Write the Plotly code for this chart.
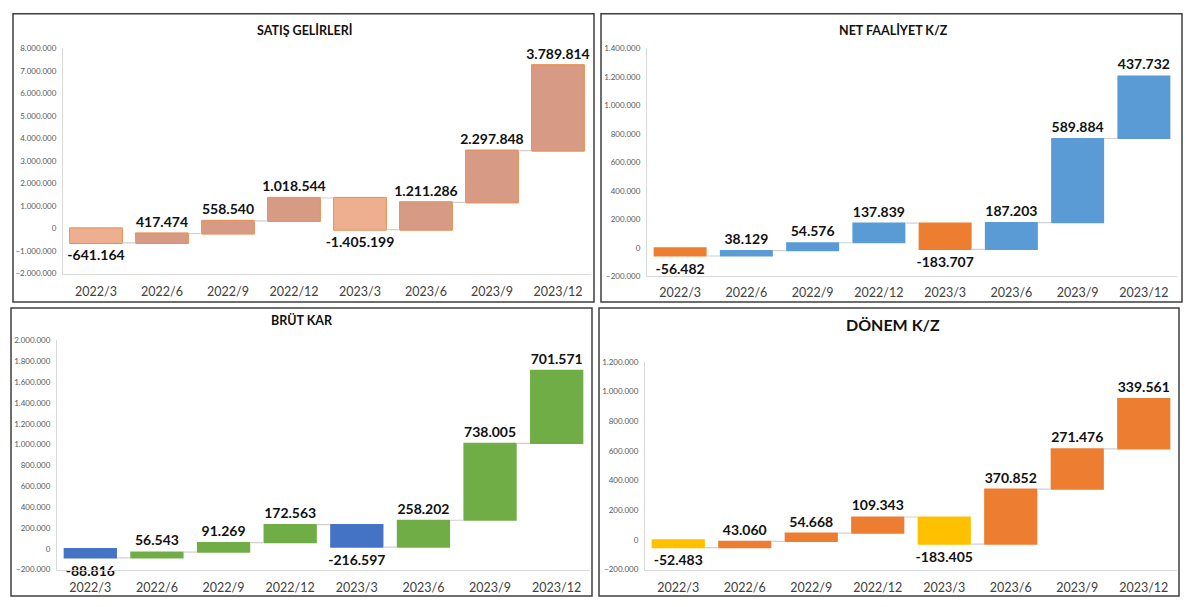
import plotly.graph_objects as go

W, H = 1200, 607

categories = ["2022/3", "2022/6", "2022/9", "2022/12", "2023/3", "2023/6", "2023/9", "2023/12"]

satis_gelirleri = [-641164, 417474, 558540, 1018544, -1405199, 1211286, 2297848, 3789814]
net_faaliyet = [-56482, 38129, 54576, 137839, -183707, 187203, 589884, 437732]
brut_kar = [-88816, 56543, 91269, 172563, -216597, 258202, 738005, 701571]
donem_kz = [-52483, 43060, 54668, 109343, -183405, 370852, 271476, 339561]

titles = ["SATIŞ GELİRLERİ", "NET FAALİYET K/Z", "BRÜT KAR", "DÖNEM K/Z"]

FONT = "Lato, Open Sans, sans-serif"


def px_x(x):
    return x / W


def px_y(y):
    return 1 - y / H


def fmt(v):
    return f"{v:,}".replace(",", ".")


panels = [
    dict(data=satis_gelirleri, inc="#D69A85", dec="#EEAE90", line="#E8904F", lw=1,
         area=(63, 591, 44, 273), yr=(-2000000, 8000000), dtick=1000000,
         box=(13, 594, 9, 302), title_xy=(305, 25), tsize=12.5, standoff=6),
    dict(data=net_faaliyet, inc="#5B9BD5", dec="#ED7D31", line="rgba(0,0,0,0)", lw=0,
         area=(647, 1177, 44, 276), yr=(-200000, 1400000), dtick=200000,
         box=(601, 1182, 9, 302), title_xy=(893, 25), tsize=12.5, standoff=5),
    dict(data=brut_kar, inc="#70AD47", dec="#4472C4", line="rgba(0,0,0,0)", lw=0,
         area=(57, 590, 341, 574), yr=(-200000, 2000000), dtick=200000,
         box=(11, 592, 308, 601), title_xy=(302, 321), tsize=12.5, standoff=6),
    dict(data=donem_kz, inc="#ED7D31", dec="#FFC000", line="rgba(0,0,0,0)", lw=0,
         area=(645, 1177, 363, 574), yr=(-200000, 1200000), dtick=200000,
         box=(599, 1179, 308, 601), title_xy=(893, 325), tsize=16, standoff=6),
]

fig = go.Figure()
shapes = []
annotations = []

for i, p in enumerate(panels):
    n = i + 1
    xa = "x" if n == 1 else f"x{n}"
    ya = "y" if n == 1 else f"y{n}"
    fig.add_trace(go.Waterfall(
        x=categories,
        y=p["data"],
        measure=["relative"] * len(p["data"]),
        text=[fmt(v) for v in p["data"]],
        textposition="outside",
        constraintext="none",
        textfont=dict(family=FONT, size=14, color="#111111", weight="bold"),
        increasing=dict(marker=dict(color=p["inc"], line=dict(color=p["line"], width=p["lw"]))),
        decreasing=dict(marker=dict(color=p["dec"], line=dict(color=p["line"], width=p["lw"]))),
        connector=dict(line=dict(color="#D0D0D0", width=1.2)),
        cliponaxis=False,
        showlegend=False,
        hoverinfo="x+y",
        xaxis=xa, yaxis=ya,
    ))
    x0, x1, yt, yb = p["area"]
    xkey = "xaxis" if n == 1 else f"xaxis{n}"
    ykey = "yaxis" if n == 1 else f"yaxis{n}"
    fig.layout[xkey] = dict(
        domain=[px_x(x0), px_x(x1)], anchor=ya,
        showline=True, linecolor="#D9D9D9", linewidth=1,
        showgrid=False, ticks="", zeroline=False,
        tickfont=dict(family=FONT, size=12.5, color="#404040"),
        ticklabelstandoff=p["standoff"],
        type="category",
    )
    fig.layout[ykey] = dict(
        domain=[px_y(yb), px_y(yt)], anchor=xa,
        range=list(p["yr"]), dtick=p["dtick"], tick0=0,
        tickformat=",d",
        showline=True, linecolor="#D9D9D9", linewidth=1,
        showgrid=False, zeroline=False, ticks="",
        tickfont=dict(family=FONT, size=8, color="#595959"),
        ticklabelstandoff=4,
    )
    bx0, bx1, by0, by1 = p["box"]
    shapes.append(dict(type="rect", xref="paper", yref="paper",
                       x0=px_x(bx0), x1=px_x(bx1), y0=px_y(by1), y1=px_y(by0),
                       line=dict(color="#3F3F3F", width=1.5), fillcolor="rgba(0,0,0,0)",
                       layer="below"))
    tx, ty = p["title_xy"]
    annotations.append(dict(text=f"<b>{titles[i]}</b>", xref="paper", yref="paper",
                            x=px_x(tx), y=px_y(ty), showarrow=False,
                            xanchor="center", yanchor="middle",
                            font=dict(family=FONT, size=p["tsize"], color="#111111")))

fig.update_layout(
    width=W, height=H,
    margin=dict(l=0, r=0, t=0, b=0),
    paper_bgcolor="white", plot_bgcolor="white",
    separators=",.",
    bargap=0.33,
    shapes=shapes,
    annotations=annotations,
    font=dict(family=FONT),
)

fig.write_html("out.html", config={"displayModeBar": False},
               post_script="document.body.style.margin='0';document.body.style.overflow='hidden';")
